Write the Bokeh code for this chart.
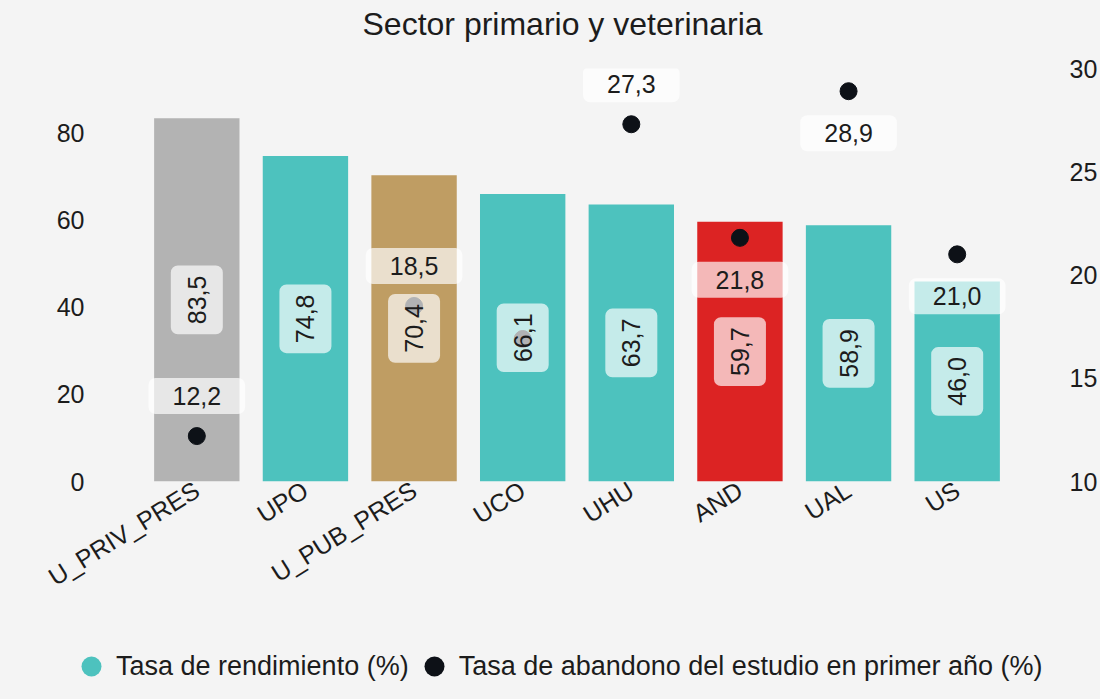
import math
from bokeh.plotting import figure
from bokeh.layouts import column
from bokeh.models import (ColumnDataSource, Range1d, LinearAxis, FixedTicker,
                          Legend, LegendItem, FactorRange, Plot)
from bokeh.embed import file_html
from bokeh.resources import INLINE
from bokeh.core.properties import value

# ---- data ----
universidades = ["U_PRIV_PRES", "UPO", "U_PUB_PRES", "UCO", "UHU", "AND", "UAL", "US"]
tasa_rendimiento = [83.5, 74.8, 70.4, 66.1, 63.7, 59.7, 58.9, 46.0]
tasa_abandono = [12.2, float("nan"), 18.5, 16.9, 27.3, 21.8, 28.9, 21.0]
abandono_etiquetada = [True, False, True, False, True, True, True, True]
abandono_lado = ["arriba", "", "arriba", "", "arriba", "abajo", "abajo", "abajo"]
ticks_izq = [0, 20, 40, 60, 80]
ticks_der = [10, 15, 20, 25, 30]
titulo = "Sector primario y veterinaria"
serie_barras = "Tasa de rendimiento (%)"
serie_puntos = "Tasa de abandono del estudio en primer año (%)"

# ---- styles ----
FONT = "Liberation Sans"
BG = "#f4f4f4"
TEXT = "#1c1c1c"
TEAL = "#4dc2be"
DOT = "#0d1117"
special = {"U_PRIV_PRES": "#b3b3b3", "U_PUB_PRES": "#bf9d63", "AND": "#dc2323"}
colores = [special.get(u, TEAL) for u in universidades]
HAS_FRAME_ALIGN = "frame_align" in Plot.properties()


def fmt(v):
    return f"{v:.1f}".replace(".", ",")


bar_src = ColumnDataSource(dict(
    x=universidades, top=tasa_rendimiento, color=colores,
    mid=[v / 2 for v in tasa_rendimiento],
    label=[fmt(v) for v in tasa_rendimiento],
))
dot_src = ColumnDataSource(dict(x=universidades, y=tasa_abandono))
lab_x, lab_y, lab_t, lab_off = [], [], [], []
for u, v, show, side in zip(universidades, tasa_abandono, abandono_etiquetada, abandono_lado):
    if show:
        lab_x.append(u)
        lab_y.append(v)
        lab_t.append(fmt(v))
        lab_off.append(-40 if side == "arriba" else 42)
dot_lab_src = ColumnDataSource(dict(x=lab_x, y=lab_y, t=lab_t, off=lab_off))

x_range = FactorRange(*universidades)


def base_fig(**kw):
    return figure(output_backend="svg", toolbar_location=None,
                  background_fill_color=BG, border_fill_color=BG,
                  outline_line_color=None, **kw)


# ---- title strip ----
pt = base_fig(width=1100, height=50, x_range=x_range, y_range=Range1d(0, 1),
              x_axis_location=None, y_axis_location=None, min_border=0)
if HAS_FRAME_ALIGN:
    pt.frame_align = False
pt.title.text = titulo
pt.title.align = "left"
pt.title.offset = 362 if HAS_FRAME_ALIGN else 220
pt.title.vertical_align = "top"
pt.title.standoff = 10
pt.title.text_font = FONT
pt.title.text_font_size = "32px"
pt.title.text_font_style = "normal"
pt.title.text_color = TEXT
pt.xgrid.visible = False
pt.ygrid.visible = False

# ---- main chart ----
p = base_fig(width=1100, height=570, x_range=x_range, y_range=Range1d(0, 94.94),
             min_border_left=142, min_border_right=83, min_border_top=18,
             min_border_bottom=139)
p.extra_y_ranges = {"abandono": Range1d(10, 30)}
p.xgrid.visible = False
p.ygrid.visible = False

p.vbar(x="x", top="top", width=0.786, color="color", source=bar_src, line_color=None)

dots = p.scatter(x="x", y="y", size=17, color=DOT, source=dot_src,
                 y_range_name="abandono")

p.text(x="x", y="mid", text="label", source=bar_src, angle=math.pi / 2,
       text_align="center", text_baseline="middle", text_font=value(FONT),
       text_font_size="25px", text_color=TEXT,
       background_fill_color="white", background_fill_alpha=0.68,
       padding=dict(left=10, right=10, top=17, bottom=17), border_radius=7)

p.text(x="x", y="y", text="t", source=dot_lab_src, y_offset="off",
       y_range_name="abandono",
       text_align="center", text_baseline="middle", text_font=value(FONT),
       text_font_size="25px", text_color=TEXT,
       background_fill_color="white", background_fill_alpha=0.68,
       padding=dict(left=24, right=24, top=9, bottom=9), border_radius=7)

p.yaxis[0].ticker = FixedTicker(ticks=ticks_izq)
right_axis = LinearAxis(y_range_name="abandono", ticker=FixedTicker(ticks=ticks_der))
p.add_layout(right_axis, "right")

for ax in [p.yaxis[0], right_axis]:
    ax.axis_line_color = None
    ax.major_tick_line_color = None
    ax.minor_tick_line_color = None
    ax.major_label_standoff = 52
    ax.major_label_text_font = FONT
    ax.major_label_text_font_size = "25px"
    ax.major_label_text_color = TEXT

xa = p.xaxis[0]
xa.axis_line_color = None
xa.major_tick_line_color = None
xa.minor_tick_line_color = None
xa.major_label_orientation = math.radians(32)
xa.major_label_standoff = 0
xa.major_label_text_font = FONT
xa.major_label_text_font_size = "25px"
xa.major_label_text_color = TEXT

# ---- legend strip ----
pl = base_fig(width=1100, height=79, x_range=x_range, y_range=Range1d(0, 1),
              x_axis_location=None, y_axis_location=None, min_border=0)
pl.xgrid.visible = False
pl.ygrid.visible = False
leg_bar = pl.scatter(x="x", y="top", source=bar_src, size=0, color=TEAL, line_color=None)
leg_dot = pl.scatter(x="x", y="y", source=dot_src, size=0, color=DOT, line_color=None)
legend = Legend(items=[
    LegendItem(label=serie_barras, renderers=[leg_bar]),
    LegendItem(label=serie_puntos, renderers=[leg_dot]),
], orientation="horizontal", glyph_width=50, glyph_height=50, label_standoff=0,
    spacing=0, label_text_font=FONT, label_text_font_size="27px",
    label_text_color=TEXT, background_fill_alpha=0, border_line_color=None,
    padding=0, margin=0)
if HAS_FRAME_ALIGN:
    pl.frame_align = False
    legend.location = (66, 8)
    pl.add_layout(legend, "center")
else:
    legend.location = (-76, 60)
    pl.add_layout(legend, "above")

layout = column(pt, p, pl, spacing=0, styles={"background-color": BG})
open("out.html", "w").write(file_html(layout, INLINE))
